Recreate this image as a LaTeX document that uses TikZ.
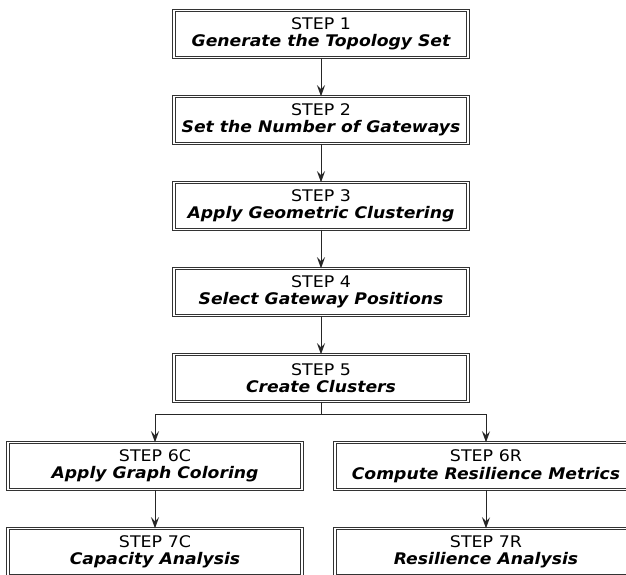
\documentclass[tikz,border=0pt]{standalone}
\usepackage{fontspec}
\setmainfont{DejaVu Sans}
\newfontfamily\headfont{DejaVu Sans}[FakeStretch=1.09]
\newfontfamily\titlefont{DejaVu Sans}[FakeStretch=1.075]
\usetikzlibrary{arrows.meta}
\tikzset{
  stepbox/.style={draw=black!80, double=white, double distance=1.2pt, line width=1pt,
    fill=white, minimum height=46.5pt, inner sep=0pt, align=center,
    font=\fontsize{16}{17.5}\selectfont},
  flow/.style={draw=black!85, line width=0.8pt,
    -{Stealth[length=11pt,width=8pt,inset=4pt]}},
  link/.style={draw=black!85, line width=0.8pt}
}
\newcommand{\steptext}[2]{{\headfont STEP #1}\\{\titlefont\bfseries\itshape #2}}
\begin{document}
\begin{tikzpicture}[x=1pt,y=-1pt]
  \useasboundingbox (0,0) rectangle (626,574);
  \clip (0,0) rectangle (626,574);
  % main column
  \node[stepbox, minimum width=294pt] (s1) at (321,34)  {\steptext{1}{Generate the Topology Set}};
  \node[stepbox, minimum width=294pt] (s2) at (321,120) {\steptext{2}{Set the Number of Gateways}};
  \node[stepbox, minimum width=294pt] (s3) at (321,206) {\steptext{3}{Apply Geometric Clustering}};
  \node[stepbox, minimum width=294pt] (s4) at (321,292) {\steptext{4}{Select Gateway Positions}};
  \node[stepbox, minimum width=294pt] (s5) at (321,378) {\steptext{5}{Create Clusters}};
  % two branches
  \node[stepbox, minimum width=294pt] (s6c) at (155,466) {\steptext{6C}{Apply Graph Coloring}};
  \node[stepbox, minimum width=302pt] (s6r) at (486,466) {\steptext{6R}{Compute Resilience Metrics}};
  \node[stepbox, minimum width=294pt] (s7c) at (155,552) {\steptext{7C}{Capacity Analysis}};
  \node[stepbox, minimum width=302pt] (s7r) at (486,552) {\steptext{7R}{Resilience Analysis}};
  % connectors
  \draw[flow] (s1) -- (s2);
  \draw[flow] (s2) -- (s3);
  \draw[flow] (s3) -- (s4);
  \draw[flow] (s4) -- (s5);
  \coordinate (split) at (321,414);
  \draw[link] (s5.south) -- (split);
  \draw[flow] (split) -| (s6c.north);
  \draw[flow] (split) -| (s6r.north);
  \draw[flow] (s6c) -- (s7c);
  \draw[flow] (s6r) -- (s7r);
\end{tikzpicture}
\end{document}
